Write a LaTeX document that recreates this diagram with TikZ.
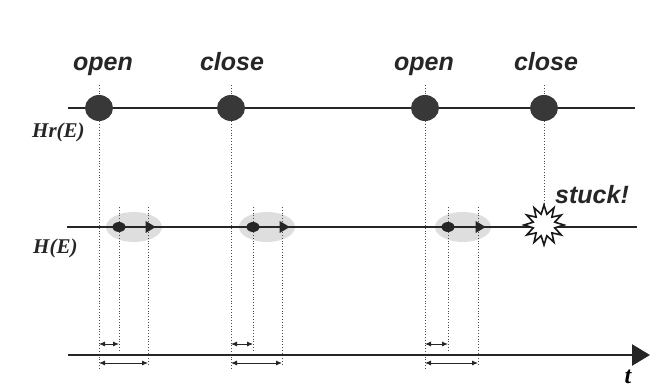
\documentclass[tikz,border=0pt]{standalone}
\usepackage{fontspec}
\setmainfont{Liberation Sans}
\newfontfamily\lserif{Liberation Serif}
\usetikzlibrary{shapes.geometric,arrows.meta}
\begin{document}
\begin{tikzpicture}[x=1pt,y=-1pt,
  axisline/.style={line width=2.3pt,draw=black!85},
  bigdot/.style={ellipse,fill=black!78,minimum width=28pt,minimum height=26pt,inner sep=0pt},
  smalldot/.style={ellipse,fill=black!85,minimum width=13pt,minimum height=10pt,inner sep=0pt},
  tiphead/.style={isosceles triangle,isosceles triangle stretches,fill=black!85,minimum width=12pt,minimum height=10pt,inner sep=0pt},
  haze/.style={ellipse,fill=black!13,minimum width=56pt,minimum height=30pt,inner sep=0pt},
  guide/.style={dotted,line width=0.8pt,draw=black!70},
  evt/.style={font=\fontsize{25}{28}\selectfont\bfseries\itshape,text=black!85,anchor=base,inner sep=0pt},
  lbl/.style={font=\lserif\bfseries\itshape\fontsize{21}{24}\selectfont,text=black!85,anchor=base west,inner sep=0pt},
  dimarrow/.style={{Latex[length=6pt,width=5pt]}-{Latex[length=6pt,width=5pt]},line width=0.9pt,draw=black!85},
  burst/.style={star,star points=12,star point ratio=1.8,minimum size=40pt,inner sep=0pt,draw=black!90,fill=white,line width=1.6pt}
]
\useasboundingbox (0,0) rectangle (650,387);

% axis end points
\coordinate (tl) at (68,108);  \coordinate (tr) at (635,108);
\coordinate (ml) at (67,227);  \coordinate (mr) at (637,227);
\coordinate (bl) at (68,355);  \coordinate (br) at (650,355);

% hazes
\node[haze] (hz1) at (134,227) {};
\node[haze] (hz2) at (267,227) {};
\node[haze] (hz3) at (463,227) {};

% guide coordinates
\foreach \n/\x in {o1/99,c1/231,o2/425,c2/544}{
  \coordinate (\n top) at (\x,85);
}
\foreach \n/\x in {o1/99,c1/231,o2/425}{
  \coordinate (\n bot) at (\x,368);
  \coordinate (\n s) at (\x,344);
  \coordinate (\n l) at (\x,363);
}
\foreach \n/\x in {d1/119,d2/253,d3/448}{
  \coordinate (\n top) at (\x,207);
  \coordinate (\n bot) at (\x,351);
  \coordinate (\n s) at (\x,344);
}
\foreach \n/\x in {a1/148,a2/282,a3/478}{
  \coordinate (\n top) at (\x,207);
  \coordinate (\n bot) at (\x,364);
  \coordinate (\n l) at (\x,363);
}
\coordinate (c2bot) at (544,206);

% dotted guides
\foreach \n in {o1,c1,o2,d1,d2,d3,a1,a2,a3}{
  \draw[guide] (\n top) -- (\n bot);
}
\draw[guide] (c2top) -- (c2bot);

% axes
\draw[axisline,line width=2pt] (tl) -- (tr);
\draw[axisline,line width=2pt] (ml) -- (mr);
\draw[axisline,line width=2.6pt,-{Triangle[length=18pt,width=21pt]}] (bl) -- (br);

% top events
\node[bigdot] (o1) at (99,108) {};
\node[bigdot] (c1) at (231,108) {};
\node[bigdot] (o2) at (425,108) {};
\node[bigdot] (c2) at (544,108) {};
\node[evt] (lo1) at (103,71) {open};
\node[evt] (lc1) at (232,71) {close};
\node[evt] (lo2) at (424,71) {open};
\node[evt] (lc2) at (546,71) {close};

% middle events
\node[smalldot] (d1) at (119,227) {};
\node[smalldot] (d2) at (253,227) {};
\node[smalldot] (d3) at (448,227) {};
\node[tiphead] (a1) at (149,227) {};
\node[tiphead] (a2) at (283,227) {};
\node[tiphead] (a3) at (479,227) {};
\node[burst] (stk) at (544,225) {};
\node[evt,anchor=base west] (lstk) at (555,204) {stuck!};

% labels
\node[lbl] (hr) at (32,138) {Hr(E)};
\node[lbl] (he) at (33,254) {H(E)};
\node[font=\lserif\bfseries\itshape\fontsize{24}{26}\selectfont,anchor=base,inner sep=0pt] (tl2) at (628,383) {t};

% dimension arrows
\draw[dimarrow] (o1s) -- (d1s);
\draw[dimarrow] (o1l) -- (a1l);
\draw[dimarrow] (c1s) -- (d2s);
\draw[dimarrow] (c1l) -- (a2l);
\draw[dimarrow] (o2s) -- (d3s);
\draw[dimarrow] (o2l) -- (a3l);
\end{tikzpicture}
\end{document}
